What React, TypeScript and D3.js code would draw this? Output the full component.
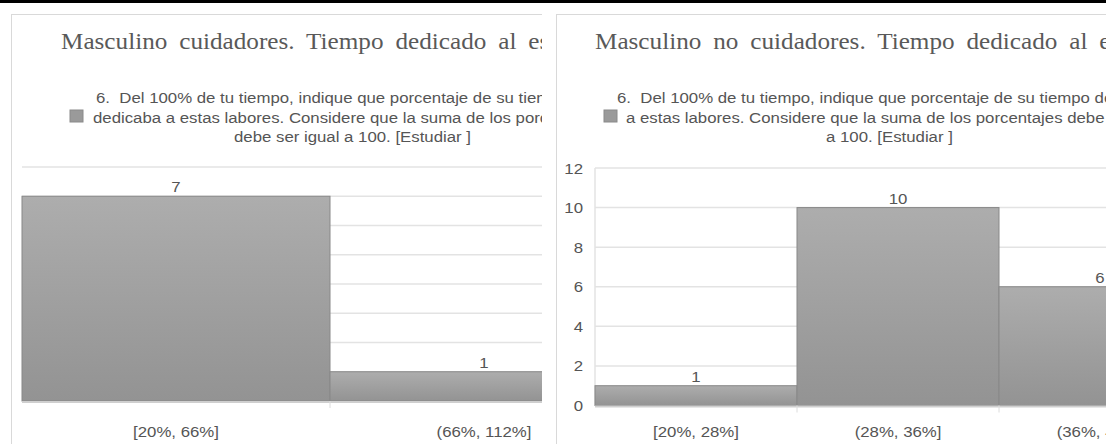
import React from 'react';
import * as d3 from 'd3';

// left chart: Masculino cuidadores
const leftCategories = ['[20%, 66%]', '(66%, 112%]'];
const leftValues = [7, 1];
const leftGridTicks = [0, 1, 2, 3, 4, 5, 6, 7, 8];

// right chart: Masculino no cuidadores
const rightCategories = ['[20%, 28%]', '(28%, 36%]', '(36%, 44%]'];
const rightValues = [1, 10, 6];
const rightTicks = [0, 2, 4, 6, 8, 10, 12];

const leftTitle = 'Masculino cuidadores. Tiempo dedicado al estudio';
const rightTitle = 'Masculino no cuidadores. Tiempo dedicado al estudio';
const leftLegend = [
  '6.  Del 100% de tu tiempo, indique que porcentaje de su tiempo',
  'dedicaba a estas labores. Considere que la suma de los porcentajes',
  'debe ser igual a 100. [Estudiar ]',
];
const rightLegend = [
  '6.  Del 100% de tu tiempo, indique que porcentaje de su tiempo dedicaba',
  'a estas labores. Considere que la suma de los porcentajes debe ser igual',
  'a 100. [Estudiar ]',
];

const SANS = '"Liberation Sans", Arial, sans-serif';
const SERIF = '"Liberation Serif", "Times New Roman", serif';
const TEXT = '#555';
const SX = 1.12; // the source picture is a bit stretched sideways

const T: React.FC<{
  x: number;
  y: number;
  size?: number;
  anchor?: string;
  family?: string;
  fill?: string;
  ws?: number;
  children: React.ReactNode;
}> = ({ x, y, size = 15, anchor = 'start', family = SANS, fill = TEXT, ws = 0, children }) => (
  <text
    transform={`translate(${x},${y}) scale(${SX},1)`}
    textAnchor={anchor}
    fontFamily={family}
    fontSize={size}
    fill={fill}
    wordSpacing={ws}
    style={{ whiteSpace: 'pre' }}
  >
    {children}
  </text>
);

interface PanelProps {
  id: string;
  clip: [number, number, number, number];
  title: string;
  titleX: number;
  legend: string[];
  legendX: [number, number, number];
  squareX: number;
  categories: string[];
  values: number[];
  ticks: number[];
  showAxisLabels: boolean;
  xRange: [number, number];
  yRange: [number, number];
  yMax: number;
}

const Panel: React.FC<PanelProps> = (p) => {
  const x = d3.scaleBand<string>().domain(p.categories).range(p.xRange).padding(0);
  const y = d3.scaleLinear().domain([0, p.yMax]).range(p.yRange);
  const [cx, cy, cw, ch] = p.clip;
  const base = y(0);
  const plotRight = p.xRange[1] + 40;

  return (
    <g clipPath={`url(#clip-${p.id})`}>
      <defs>
        <clipPath id={`clip-${p.id}`}>
          <rect x={cx} y={cy} width={cw} height={ch} />
        </clipPath>
        <linearGradient id={`grad-${p.id}`} x1="0" y1="0" x2="0" y2="1">
          <stop offset="0%" stopColor="#adadad" />
          <stop offset="100%" stopColor="#939393" />
        </linearGradient>
      </defs>
      {/* panel frame */}
      <rect x={cx + 0.5} y={cy + 0.5} width={cw + 20} height={ch + 20} fill="#fff" stroke="#d9d9d9" />

      <T x={p.titleX} y={49} size={22.5} family={SERIF} fill="#595959" ws={5}>
        {p.title}
      </T>

      <rect x={p.squareX} y={110} width={13} height={12} fill="#9a9a9a" stroke="#8a8a8a" />
      {p.legend.map((line, i) => (
        <T key={i} x={p.legendX[i]} y={103 + i * 19.5}>
          {line}
        </T>
      ))}

      {/* grid */}
      {p.ticks.map((t) => (
        <line key={t} x1={p.xRange[0]} x2={plotRight} y1={y(t)} y2={y(t)} stroke="#e3e3e3" strokeWidth={1.5} />
      ))}
      {p.showAxisLabels && (
        <line x1={p.xRange[0]} x2={p.xRange[0]} y1={y(p.yMax)} y2={base} stroke="#e3e3e3" strokeWidth={1.5} />
      )}
      {p.showAxisLabels &&
        p.ticks.map((t) => (
          <T key={t} x={p.xRange[0] - 12} y={y(t) + 5.5} anchor="end">
            {t}
          </T>
        ))}

      {/* bars */}
      {p.categories.map((c, i) => (
        <rect
          key={c}
          x={x(c)!}
          y={y(p.values[i])}
          width={x.bandwidth()}
          height={base - y(p.values[i])}
          fill={`url(#grad-${p.id})`}
          stroke="#888"
          strokeWidth={1}
        />
      ))}
      {p.categories.map((c, i) => (
        <T key={c} x={x(c)! + x.bandwidth() / 2} y={y(p.values[i]) - 4} anchor="middle">
          {p.values[i]}
        </T>
      ))}

      {/* axis */}
      <line x1={p.xRange[0]} x2={plotRight} y1={base + 1} y2={base + 1} stroke="#cfcfcf" strokeWidth={2} />
      {x.domain().slice(1).map((c) => (
        <line key={c} x1={x(c)!} x2={x(c)!} y1={base} y2={base + 7} stroke="#dcdcdc" />
      ))}
      {p.categories.map((c) => (
        <T key={c} x={x(c)! + x.bandwidth() / 2} y={437} anchor="middle">
          {c}
        </T>
      ))}
    </g>
  );
};

export default function App() {
  return (
    <svg width={1106} height={444} style={{ position: 'absolute', left: 0, top: 0, background: '#fff' }}>
      <rect x={0} y={0} width={1106} height={444} fill="#fff" />
      <Panel
        id="l"
        clip={[11, 14, 531, 430]}
        title={leftTitle}
        titleX={61}
        legend={leftLegend}
        legendX={[96, 93, 234]}
        squareX={70}
        categories={leftCategories}
        values={leftValues}
        ticks={leftGridTicks}
        showAxisLabels={false}
        xRange={[22, 638]}
        yRange={[401, 167]}
        yMax={8}
      />
      <Panel
        id="r"
        clip={[556, 14, 550, 430]}
        title={rightTitle}
        titleX={595}
        legend={rightLegend}
        legendX={[617, 626, 826]}
        squareX={604}
        categories={rightCategories}
        values={rightValues}
        ticks={rightTicks}
        showAxisLabels={true}
        xRange={[595, 1201]}
        yRange={[405.5, 168]}
        yMax={12}
      />
      <rect x={0} y={0} width={1106} height={3} fill="#000" />
    </svg>
  );
}
